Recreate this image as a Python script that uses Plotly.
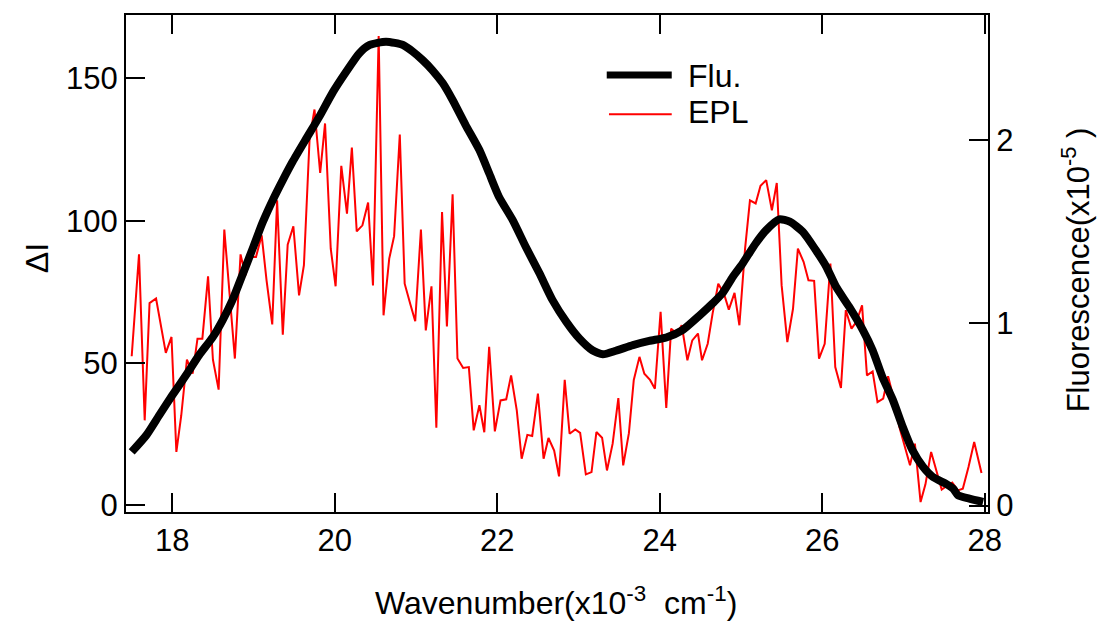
import plotly.graph_objects as go

# ---------------- data ----------------
epl_x = [17.50, 17.59, 17.66, 17.72, 17.80, 17.92, 17.99, 18.05, 18.11, 18.18,
         18.25, 18.31, 18.37, 18.44, 18.50, 18.57, 18.64, 18.71, 18.77, 18.84,
         18.90, 18.96, 19.03, 19.10, 19.16, 19.23, 19.29, 19.36, 19.42, 19.49,
         19.56, 19.62, 19.69, 19.75, 19.82, 19.88, 19.95, 20.01, 20.08, 20.15,
         20.21, 20.27, 20.34, 20.41, 20.47, 20.54, 20.60, 20.67, 20.73, 20.80,
         20.86, 20.93, 20.99, 21.06, 21.12,
         21.19, 21.25, 21.32, 21.38, 21.45, 21.51, 21.58, 21.65, 21.71, 21.78,
         21.84, 21.90, 21.97, 22.04, 22.11, 22.17, 22.24, 22.30, 22.37, 22.43,
         22.50, 22.57, 22.63, 22.70, 22.76, 22.83, 22.89, 22.96, 23.02, 23.09,
         23.16, 23.22, 23.29, 23.35, 23.42, 23.49, 23.55, 23.62, 23.68, 23.75,
         23.81, 23.88, 23.94, 24.01, 24.08, 24.14, 24.21, 24.27, 24.34, 24.40,
         24.47,
         24.52, 24.59, 24.65, 24.72, 24.79, 24.85, 24.92, 24.98, 25.05, 25.11,
         25.18, 25.24, 25.31, 25.38, 25.44, 25.50, 25.57, 25.64, 25.70, 25.77,
         25.83, 25.90, 25.96, 26.03, 26.10, 26.16, 26.23, 26.29, 26.36, 26.42,
         26.49, 26.55, 26.62, 26.68, 26.75, 26.81, 26.88, 26.95, 27.01, 27.08,
         27.14, 27.21, 27.27, 27.34, 27.41, 27.47, 27.54, 27.60, 27.67, 27.73,
         27.80, 27.87, 27.96]

epl_y = [52.4, 88.2, 29.9, 71.1, 72.7, 53.6, 59.2, 18.8, 31.6, 51.2,
         46.3, 58.6, 58.6, 80.5, 51.2, 40.7, 96.9, 72.1, 51.6, 88.2,
         80.9, 87.3, 87.3, 94.9, 79.1, 63.6, 107.2, 60.0, 91.6, 98.1,
         73.8, 84.4, 128.9, 139.1, 116.8, 134.2, 90.2, 77.0, 119.3, 102.5,
         125.7, 96.3, 98.4, 106.4, 77.3, 164.9, 66.8, 86.7, 94.6, 130.3,
         77.9, 70.7, 64.7, 96.9, 61.5,
         77.0, 27.3, 103.1, 62.9, 109.3, 51.6, 48.3, 48.6, 26.4, 35.2,
         25.7, 55.7, 26.0, 36.9, 37.3, 45.7, 33.4, 16.4, 24.8, 24.4,
         39.3, 16.4, 23.7, 19.3, 10.2, 44.1, 25.2, 26.7, 25.5, 10.9,
         11.7, 25.8, 23.8, 12.3, 21.7, 37.7, 14.1, 25.4, 44.1, 52.2,
         46.3, 44.1, 41.0, 68.0, 34.3, 62.1, 60.4, 63.3, 51.0, 58.0,
         60.4,
         51.0, 56.8, 67.4, 77.9, 74.4, 68.8, 74.7, 63.3, 90.2, 107.2,
         106.1, 112.3, 114.3, 103.7, 113.3, 77.3, 57.4, 69.1, 90.2, 85.6,
         79.1, 78.9, 51.6, 56.8, 85.0, 48.6, 41.3, 68.6, 62.1, 64.5,
         70.3, 45.7, 47.1, 36.3, 37.5, 45.4, 37.5, 27.5, 21.7, 14.1,
         21.7, 1.2, 7.4, 18.8, 11.7, 5.6, 7.0, 8.0, 5.3, 5.9,
         13.5, 22.3, 11.4]

flu_x = [17.50, 17.68, 17.84, 18.00, 18.17, 18.33, 18.50, 18.62, 18.74, 18.87,
         18.99, 19.11, 19.24, 19.36, 19.48, 19.65, 19.81, 19.98, 20.14, 20.30,
         20.43, 20.63, 20.84, 20.96, 21.08, 21.20, 21.33, 21.45, 21.61, 21.78,
         21.90, 22.02, 22.19, 22.35, 22.52, 22.68, 22.85, 23.01, 23.17, 23.30,
         23.46, 23.67, 23.87, 24.08, 24.28, 24.49, 24.65, 24.77, 24.90, 25.02,
         25.18, 25.31, 25.47, 25.60, 25.76, 25.92, 26.05, 26.17, 26.33, 26.50,
         26.62, 26.74, 26.87, 26.99, 27.11, 27.24, 27.36, 27.52, 27.61, 27.67,
         27.81, 27.98]

flu_y = [0.294, 0.385, 0.495, 0.604, 0.714, 0.823, 0.923, 1.015, 1.124, 1.270,
         1.407, 1.547, 1.675, 1.781, 1.881, 2.009, 2.128, 2.265, 2.374, 2.474,
         2.520, 2.538, 2.520, 2.484, 2.438, 2.383, 2.310, 2.219, 2.082, 1.945,
         1.818, 1.690, 1.562, 1.416, 1.270, 1.124, 1.005, 0.914, 0.850, 0.828,
         0.847, 0.878, 0.901, 0.920, 0.960, 1.040, 1.106, 1.161, 1.252, 1.325,
         1.434, 1.507, 1.566, 1.553, 1.498, 1.398, 1.307, 1.197, 1.088, 0.960,
         0.850, 0.704, 0.577, 0.431, 0.303, 0.212, 0.157, 0.120, 0.093, 0.057,
         0.038, 0.020]

x_ticks = [18, 20, 22, 24, 26, 28]
y_ticks = [0, 50, 100, 150]
y2_ticks = [0, 1, 2]

FONT = "Liberation Sans, Arial, sans-serif"
FS_TICK = 31
FS_TEXT = 32

fig = go.Figure()
fig.add_trace(go.Scatter(x=epl_x, y=epl_y, mode="lines", name="EPL",
                         line=dict(color="#ff0000", width=2), yaxis="y",
                         showlegend=False))
fig.add_trace(go.Scatter(x=flu_x, y=flu_y, mode="lines", name="Flu.",
                         line=dict(color="#000000", width=8, shape="spline", smoothing=0.6),
                         yaxis="y2", showlegend=False))

axis_common = dict(showgrid=False, zeroline=False, showline=True, linewidth=2,
                   linecolor="black", ticks="inside", ticklen=19, tickwidth=2,
                   tickcolor="black",
                   tickfont=dict(family=FONT, size=FS_TICK, color="black"))

fig.update_layout(
    width=1097, height=622,
    margin=dict(l=126, r=109, t=15, b=110),
    paper_bgcolor="white", plot_bgcolor="white",
    font=dict(family=FONT, size=FS_TEXT, color="black"),
    xaxis=dict(range=[17.43, 28.04], tickmode="array", tickvals=x_ticks,
               mirror="ticks", **axis_common),
    yaxis=dict(range=[-2.3, 172.3], tickmode="array", tickvals=y_ticks, **axis_common),
    yaxis2=dict(range=[-0.035, 2.684], tickmode="array", tickvals=y2_ticks,
                overlaying="y", side="right", **axis_common),
    showlegend=False,
)

# legend (drawn to match the long sample lines of the original)
fig.add_shape(type="line", xref="paper", yref="paper", x0=0.5577, x1=0.6331,
              y0=0.8792, y1=0.8792, line=dict(color="black", width=7))
fig.add_shape(type="line", xref="paper", yref="paper", x0=0.5603, x1=0.6331,
              y0=0.8001, y1=0.8001, line=dict(color="#ff0000", width=2))
fig.add_annotation(xref="paper", yref="paper", x=0.6495, y=0.877, text="Flu.",
                   showarrow=False, xanchor="left", yanchor="middle",
                   font=dict(family=FONT, size=FS_TEXT, color="black"))
fig.add_annotation(xref="paper", yref="paper", x=0.6495, y=0.805, text="EPL",
                   showarrow=False, xanchor="left", yanchor="middle",
                   font=dict(family=FONT, size=FS_TEXT, color="black"))

# axis titles
fig.add_annotation(xref="paper", yref="paper", x=0.4994, y=-0.18,
                   text="Wavenumber(x10<sup>-3</sup>&nbsp; cm<sup>-1</sup>)",
                   showarrow=False, xanchor="center", yanchor="middle",
                   font=dict(family=FONT, size=FS_TEXT, color="black"))
fig.add_annotation(xref="paper", yref="paper", x=-0.103, y=0.511, text="ΔI",
                   showarrow=False, xanchor="center", yanchor="middle", textangle=-90,
                   font=dict(family=FONT, size=FS_TEXT, color="black"))
fig.add_annotation(xref="paper", yref="paper", x=1.1025, y=0.487,
                   text="Fluorescence(x10<sup>-5</sup> )",
                   showarrow=False, xanchor="center", yanchor="middle", textangle=-90,
                   font=dict(family=FONT, size=FS_TICK, color="black"))

fig.write_html("out.html")
